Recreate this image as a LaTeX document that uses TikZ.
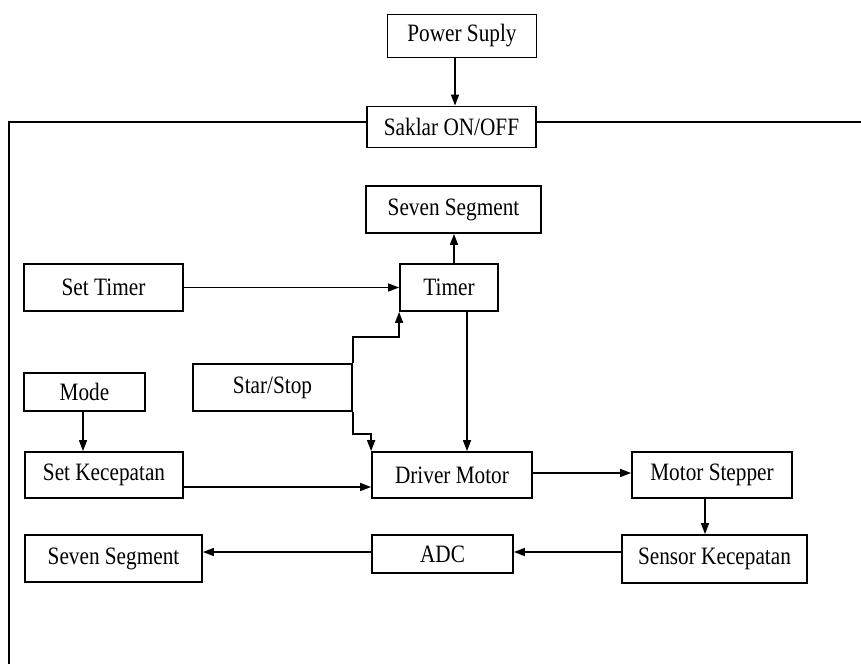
\documentclass[tikz,border=0pt]{standalone}
\usepackage{fontspec}
\setmainfont{Liberation Serif}[FakeStretch=0.85]
\usepackage{tikz}
\usetikzlibrary{positioning,calc,arrows.meta}

\tikzset{
    blok/.style={draw, line width=1.8pt, inner sep=0pt, font=\fontsize{25}{28}\selectfont},
    panah/.style={-{Triangle[length=11pt,width=8pt]}, line width=1.5pt},
    garis/.style={line width=1.8pt}
}

\begin{document}
\begin{tikzpicture}[x=1pt,y=-1pt]
    \useasboundingbox [fill=white] (0,0) rectangle (861,664);

    \node [blok, minimum width=149pt, minimum height=43pt] at (462,36)    (pwr)      {Power Suply};
    \node [blok, minimum width=169pt, minimum height=41pt] at (451.5,127) (saklar)   {Saklar ON/OFF};
    \node [blok, minimum width=175pt, minimum height=47pt] at (453.5,209.5) (segatas) {Seven Segment};
    \node [blok, minimum width=98pt,  minimum height=47pt] at (449,287.5) (timer)    {Timer};
    \node [blok, minimum width=159pt, minimum height=47pt] at (103.5,287.5) (settimer) {Set Timer};
    \node [blok, minimum width=121pt, minimum height=38pt] at (84.5,392)  (mode)     {Mode};
    \node [blok, minimum width=159pt, minimum height=47pt] at (272.5,387.5) (start)  {Star/Stop};
    \node [blok, minimum width=158pt, minimum height=46pt] at (104,475)   (setkec)   {Set Kecepatan};
    \node [blok, minimum width=160pt, minimum height=46pt] at (452,475)   (driver)   {Driver Motor};
    \node [blok, minimum width=160pt, minimum height=46pt] at (712,475)   (motor)    {Motor Stepper};
    \node [blok, minimum width=185pt, minimum height=48pt] at (714.5,559) (sensor)   {Sensor Kecepatan};
    \node [blok, minimum width=141pt, minimum height=38pt] at (442.5,554) (adc)      {ADC};
    \node [blok, minimum width=177pt, minimum height=47pt] at (113.5,558.5) (segbawah) {Seven Segment};

    \coordinate (kiriatas)  at (9,122);
    \coordinate (kiribawah) at (9,664);
    \coordinate (kanan)     at (861,122);

    % saklar ke seluruh rangkaian
    \draw [garis] ([yshift=5pt]saklar.west) -- (kiriatas) -- (kiribawah);
    \draw [garis] ([yshift=5pt]saklar.east) -- (kanan);

    \draw [panah] ([xshift=-7pt]pwr.south) -- ([xshift=-7pt]pwr.south |- saklar.north);
    \draw [panah] ([xshift=5pt]timer.north) -- ([xshift=5pt]timer.north |- segatas.south);
    \draw [panah] (settimer) -- (timer);
    \draw [panah] (start.north east) -- ++(0,-26) -| (timer.south west);
    \draw [panah] (start.south east) -- ++(0,22) -| (driver.north west);
    \draw [panah] ([xshift=18pt]timer.south) -- ([xshift=18pt]timer.south |- driver.north);
    \draw [panah] ([xshift=-1.5pt]mode.south) -- ([xshift=-1.5pt]mode.south |- setkec.north);
    \draw [panah] ([yshift=-12pt]setkec.east) -- ([yshift=-12pt]setkec.east -| driver.west);
    \draw [panah] ([yshift=2pt]driver.east) -- ([yshift=2pt]driver.east -| motor.west);
    \draw [panah] ([xshift=-7pt]motor.south) -- ([xshift=-7pt]motor.south |- sensor.north);
    \draw [panah] ([yshift=7pt]sensor.west) -- ([yshift=7pt]sensor.west -| adc.east);
    \draw [panah] ([yshift=2pt]adc.west) -- ([yshift=2pt]adc.west -| segbawah.east);
\end{tikzpicture}
\end{document}
